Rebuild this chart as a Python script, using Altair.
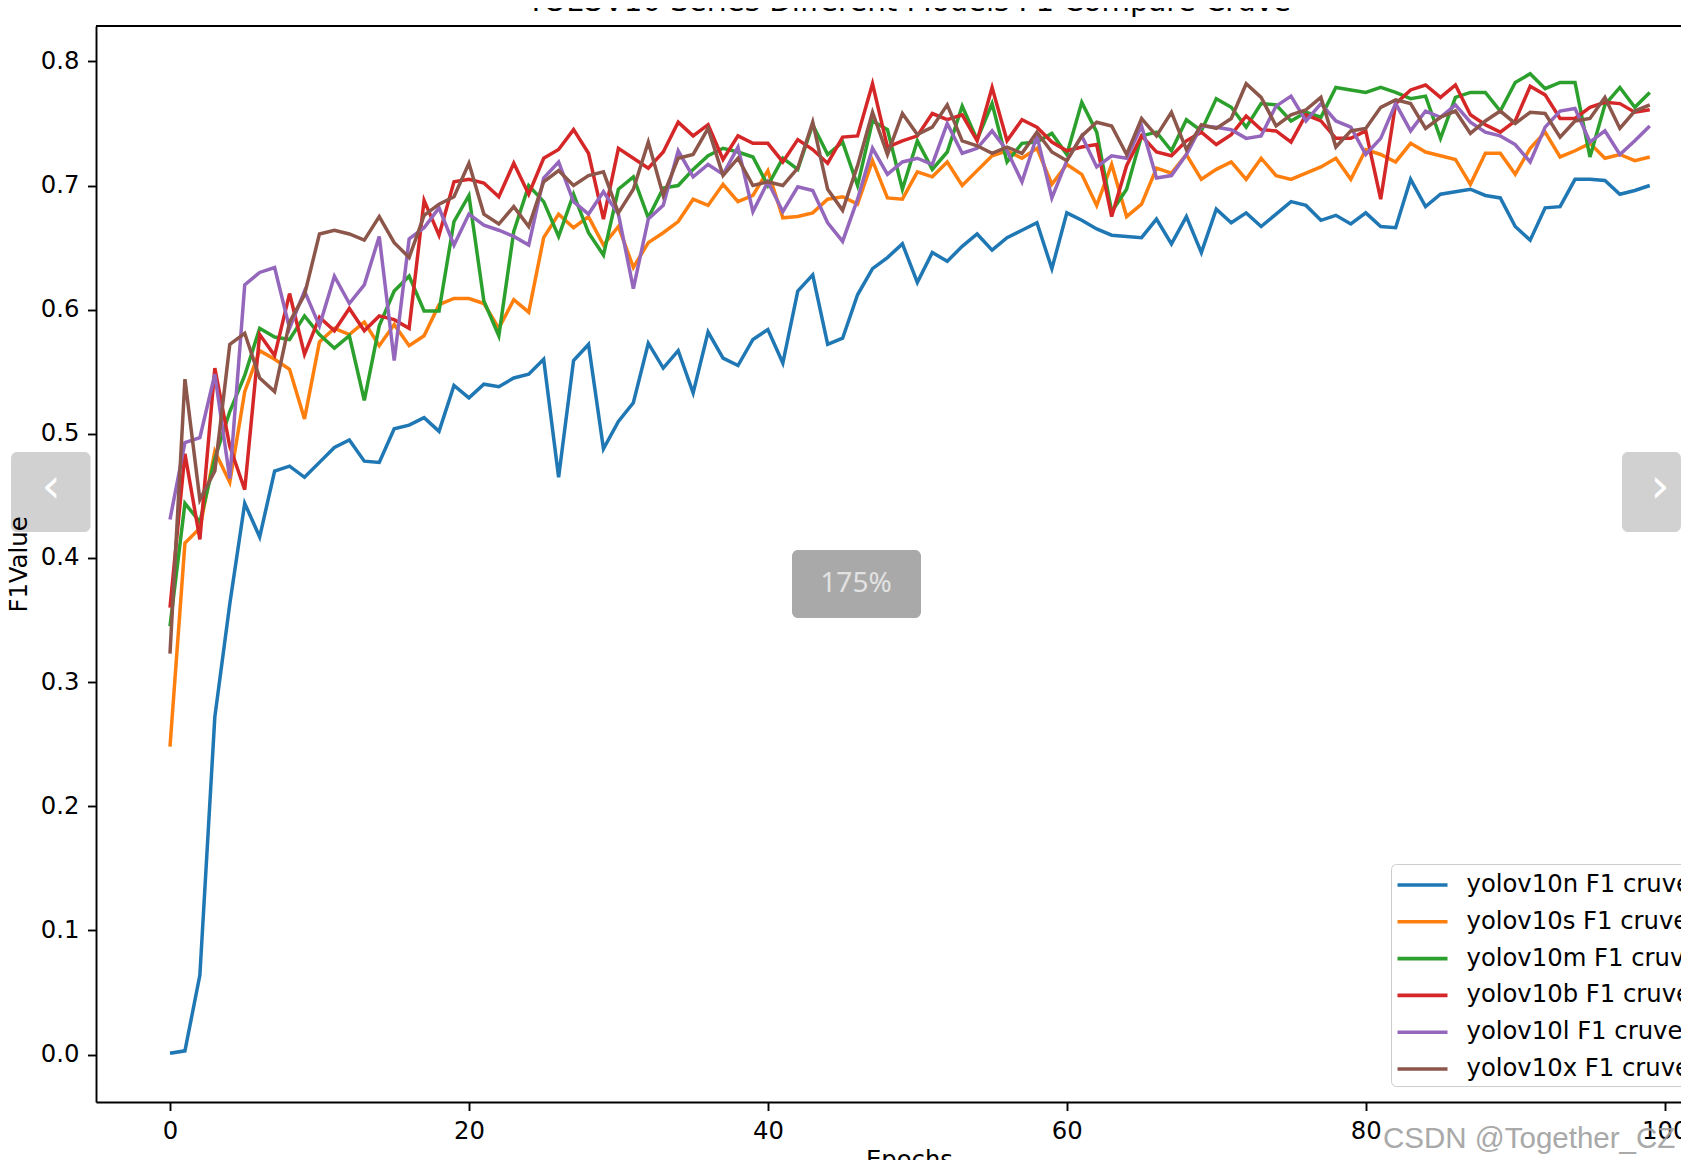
import altair as alt
import pandas as pd

# ---------------- data ----------------
epochs = list(range(100))

yolov10n = [0.001, 0.003, 0.064, 0.272, 0.363, 0.444, 0.417, 0.470, 0.474, 0.465,
            0.477, 0.489, 0.495, 0.478, 0.477, 0.504, 0.507, 0.513, 0.502, 0.539,
            0.529, 0.540, 0.538, 0.545, 0.548, 0.560, 0.465, 0.559, 0.572, 0.488,
            0.510, 0.525, 0.573, 0.553, 0.567, 0.533, 0.582, 0.561, 0.555, 0.576,
            0.584, 0.557, 0.615, 0.628, 0.572, 0.577, 0.612, 0.633, 0.642, 0.653,
            0.622, 0.646, 0.639, 0.651, 0.661, 0.648, 0.658, 0.664, 0.670, 0.633,
            0.678, 0.672, 0.665, 0.660, 0.659, 0.658, 0.673, 0.653, 0.675, 0.646,
            0.681, 0.670, 0.678, 0.667, 0.677, 0.687, 0.684, 0.672, 0.676, 0.669,
            0.678, 0.667, 0.666, 0.705, 0.683, 0.693, 0.695, 0.697, 0.692, 0.690,
            0.667, 0.656, 0.682, 0.683, 0.705, 0.705, 0.704, 0.693, 0.696, 0.700]

yolov10s = [0.248, 0.412, 0.424, 0.486, 0.461, 0.534, 0.567, 0.560, 0.552, 0.512,
            0.574, 0.585, 0.580, 0.590, 0.571, 0.588, 0.571, 0.579, 0.604, 0.609,
            0.609, 0.605, 0.585, 0.608, 0.598, 0.658, 0.677, 0.666, 0.675, 0.652,
            0.667, 0.634, 0.654, 0.662, 0.671, 0.689, 0.684, 0.701, 0.687, 0.692,
            0.712, 0.674, 0.675, 0.678, 0.689, 0.691, 0.685, 0.720, 0.690, 0.689,
            0.711, 0.707, 0.719, 0.700, 0.712, 0.724, 0.728, 0.722, 0.730, 0.701,
            0.717, 0.709, 0.684, 0.717, 0.675, 0.685, 0.714, 0.710, 0.725, 0.705,
            0.713, 0.719, 0.705, 0.722, 0.708, 0.705, 0.710, 0.715, 0.722, 0.705,
            0.729, 0.725, 0.719, 0.734, 0.727, 0.724, 0.721, 0.701, 0.726, 0.726,
            0.709, 0.730, 0.743, 0.723, 0.728, 0.734, 0.722, 0.725, 0.720, 0.723]

yolov10m = [0.345, 0.444, 0.429, 0.480, 0.518, 0.547, 0.585, 0.578, 0.576, 0.595,
            0.580, 0.569, 0.579, 0.527, 0.587, 0.615, 0.627, 0.599, 0.599, 0.671,
            0.692, 0.607, 0.579, 0.663, 0.700, 0.687, 0.659, 0.693, 0.662, 0.644,
            0.697, 0.707, 0.674, 0.698, 0.700, 0.713, 0.724, 0.730, 0.727, 0.723,
            0.700, 0.722, 0.713, 0.749, 0.725, 0.735, 0.700, 0.752, 0.745, 0.697,
            0.736, 0.713, 0.727, 0.764, 0.737, 0.766, 0.719, 0.734, 0.735, 0.742,
            0.725, 0.767, 0.743, 0.679, 0.697, 0.740, 0.743, 0.728, 0.753, 0.744,
            0.770, 0.763, 0.747, 0.766, 0.765, 0.752, 0.759, 0.755, 0.779, 0.777,
            0.775, 0.779, 0.775, 0.770, 0.772, 0.738, 0.771, 0.775, 0.775, 0.760,
            0.783, 0.790, 0.778, 0.783, 0.783, 0.723, 0.765, 0.779, 0.763, 0.775]

yolov10b = [0.360, 0.484, 0.415, 0.553, 0.490, 0.455, 0.580, 0.563, 0.613, 0.564,
            0.594, 0.583, 0.601, 0.583, 0.595, 0.592, 0.585, 0.688, 0.660, 0.703,
            0.705, 0.702, 0.691, 0.718, 0.693, 0.722, 0.729, 0.745, 0.726, 0.673,
            0.730, 0.722, 0.714, 0.727, 0.751, 0.740, 0.749, 0.721, 0.740, 0.734,
            0.734, 0.719, 0.737, 0.729, 0.718, 0.739, 0.740, 0.782, 0.731, 0.736,
            0.740, 0.758, 0.753, 0.757, 0.736, 0.779, 0.736, 0.753, 0.747, 0.735,
            0.728, 0.731, 0.733, 0.675, 0.716, 0.740, 0.727, 0.724, 0.736, 0.743,
            0.733, 0.741, 0.756, 0.745, 0.744, 0.735, 0.757, 0.752, 0.738, 0.738,
            0.744, 0.689, 0.766, 0.777, 0.781, 0.771, 0.781, 0.757, 0.749, 0.743,
            0.752, 0.780, 0.773, 0.754, 0.754, 0.763, 0.767, 0.766, 0.759, 0.761]

yolov10l = [0.431, 0.493, 0.497, 0.548, 0.464, 0.620, 0.630, 0.634, 0.585, 0.615,
            0.587, 0.627, 0.605, 0.620, 0.659, 0.559, 0.657, 0.666, 0.682, 0.652,
            0.677, 0.668, 0.664, 0.659, 0.652, 0.706, 0.719, 0.687, 0.677, 0.695,
            0.677, 0.617, 0.673, 0.684, 0.728, 0.707, 0.717, 0.709, 0.731, 0.679,
            0.703, 0.679, 0.699, 0.696, 0.670, 0.655, 0.689, 0.730, 0.709, 0.719,
            0.722, 0.717, 0.750, 0.726, 0.730, 0.744, 0.728, 0.703, 0.740, 0.690,
            0.720, 0.740, 0.715, 0.724, 0.722, 0.748, 0.706, 0.708, 0.725, 0.748,
            0.747, 0.745, 0.738, 0.740, 0.764, 0.772, 0.752, 0.766, 0.752, 0.747,
            0.725, 0.738, 0.766, 0.744, 0.760, 0.755, 0.765, 0.751, 0.743, 0.740,
            0.733, 0.719, 0.747, 0.760, 0.762, 0.735, 0.744, 0.725, 0.736, 0.748]

yolov10x = [0.323, 0.544, 0.447, 0.470, 0.572, 0.581, 0.545, 0.534, 0.590, 0.612,
            0.661, 0.664, 0.661, 0.656, 0.675, 0.654, 0.642, 0.676, 0.685, 0.691,
            0.718, 0.677, 0.669, 0.683, 0.667, 0.703, 0.712, 0.700, 0.708, 0.711,
            0.678, 0.697, 0.735, 0.692, 0.722, 0.725, 0.746, 0.708, 0.722, 0.700,
            0.703, 0.700, 0.714, 0.751, 0.697, 0.680, 0.716, 0.759, 0.725, 0.758,
            0.741, 0.747, 0.765, 0.736, 0.732, 0.726, 0.731, 0.726, 0.743, 0.727,
            0.720, 0.740, 0.751, 0.748, 0.725, 0.754, 0.740, 0.759, 0.729, 0.749,
            0.746, 0.754, 0.782, 0.771, 0.748, 0.757, 0.761, 0.771, 0.731, 0.744,
            0.746, 0.763, 0.769, 0.766, 0.746, 0.755, 0.760, 0.742, 0.752, 0.760,
            0.750, 0.759, 0.758, 0.739, 0.752, 0.754, 0.771, 0.746, 0.760, 0.765]

series_names = ["yolov10n F1 cruve", "yolov10s F1 cruve", "yolov10m F1 cruve",
                "yolov10b F1 cruve", "yolov10l F1 cruve", "yolov10x F1 cruve"]
series_values = [yolov10n, yolov10s, yolov10m, yolov10b, yolov10l, yolov10x]
series_colors = ["#1f77b4", "#ff7f0e", "#2ca02c", "#d62728", "#9467bd", "#8c564b"]

x_ticks = [0, 20, 40, 60, 80, 100]
y_ticks = [0.0, 0.1, 0.2, 0.3, 0.4, 0.5, 0.6, 0.7, 0.8]

chart_title = "YOLOV10 Series Different Models F1 Compare Cruve"
x_title = "Epochs"
y_title = "F1Value"
watermark = "CSDN @Together_CZ"
zoom_badge = "175%"

# ---------------- build table ----------------
rows = []
for name, vals in zip(series_names, series_values):
    for e, v in zip(epochs, vals):
        rows.append({"Epoch": e, "F1": v, "Model": name})
df = pd.DataFrame(rows)

W, H = 1585, 1076
FONT = "DejaVu Sans"
FS = 24.3

lines = alt.Chart(df).mark_line(strokeWidth=3.5).encode(
    x=alt.X("Epoch:Q",
            scale=alt.Scale(domain=[-4.95, 101.09], nice=False, zero=False),
            axis=alt.Axis(values=x_ticks, title=x_title, grid=False, labelFlush=False,
                          domainColor="#000000", domainWidth=1.9,
                          tickColor="#000000", tickWidth=1.9, tickSize=8.5,
                          labelPadding=8.5, labelFont=FONT, labelFontSize=FS,
                          labelColor="#000000", titleFont=FONT, titleFontSize=FS,
                          titleFontWeight="normal", titleColor="#000000",
                          titleX=813, titleY=46, titleBaseline="top")),
    y=alt.Y("F1:Q",
            scale=alt.Scale(domain=[-0.0382, 0.8285], nice=False, zero=False),
            axis=alt.Axis(values=y_ticks, format=".1f", title=y_title, grid=False,
                          domainColor="#000000", domainWidth=1.9,
                          tickColor="#000000", tickWidth=1.9, tickSize=8.5,
                          labelPadding=8.5, labelFont=FONT, labelFontSize=FS,
                          labelColor="#000000", titleFont=FONT, titleFontSize=FS,
                          titleFontWeight="normal", titleColor="#000000",
                          titleX=-70, titleY=538, titleBaseline="alphabetic")),
    color=alt.Color("Model:N",
                    scale=alt.Scale(domain=series_names, range=series_colors),
                    legend=alt.Legend(title=None, orient="none", legendX=1295, legendY=838,
                                      direction="vertical",
                                      symbolType="M-1.667,0H1.667", symbolSize=900,
                                      symbolStrokeWidth=3.6, symbolOffset=10.5,
                                      labelFont=FONT, labelFontSize=FS, labelColor="#000000",
                                      labelOffset=27, labelLimit=600,
                                      padding=4, rowPadding=6.8,
                                      fillColor="rgba(255,255,255,0.8)",
                                      strokeColor="#cccccc", cornerRadius=5)),
)

one = alt.Data(values=[{}])

title_mark = alt.Chart(one).mark_text(text=chart_title, font=FONT, fontSize=29.2,
                                      color="#000000", baseline="alphabetic",
                                      align="center").encode(
    x=alt.value(813), y=alt.value(-14.6))

top_rule = alt.Chart(one).mark_rule(color="#000000", strokeWidth=1.9).encode(
    x=alt.value(0), x2=alt.value(W), y=alt.value(0))

left_box = alt.Chart(one).mark_rect(cornerRadius=6, color="#000000", opacity=0.18).encode(
    x=alt.value(-85), x2=alt.value(-5.5), y=alt.value(426), y2=alt.value(506))
right_box = alt.Chart(one).mark_rect(cornerRadius=6, color="#000000", opacity=0.18).encode(
    x=alt.value(1526), x2=alt.value(W), y=alt.value(426), y2=alt.value(506))
left_arrow = alt.Chart(one).mark_text(text="‹", font=FONT, fontSize=48, color="#ffffff",
                                      baseline="middle", align="center").encode(
    x=alt.value(-45), y=alt.value(462))
right_arrow = alt.Chart(one).mark_text(text="›", font=FONT, fontSize=48, color="#ffffff",
                                       baseline="middle", align="center").encode(
    x=alt.value(1564), y=alt.value(462))
badge = alt.Chart(one).mark_rect(cornerRadius=6, color="#a9a9a9").encode(
    x=alt.value(696), x2=alt.value(825), y=alt.value(524), y2=alt.value(592))
badge_text = alt.Chart(one).mark_text(text=zoom_badge, font="Noto Sans", fontSize=28,
                                      color="#e2e2e2", baseline="middle", align="center").encode(
    x=alt.value(760), y=alt.value(558))
wm = alt.Chart(one).mark_text(text=watermark, font="Liberation Sans", fontSize=29.5,
                              color="#a0a0a0", opacity=0.9, baseline="alphabetic",
                              align="left").encode(
    x=alt.value(1287), y=alt.value(1122))

chart = alt.layer(lines, title_mark, top_rule, left_box, right_box, left_arrow, right_arrow,
                  badge, badge_text, wm).properties(
    width=W, height=H,
    autosize=alt.AutoSizeParams(type="none"),
    padding={"left": 88, "top": 18, "right": 0, "bottom": 58},
).configure_view(stroke="transparent")

chart.save("out.html", embed_options={"renderer": "svg", "actions": False})
